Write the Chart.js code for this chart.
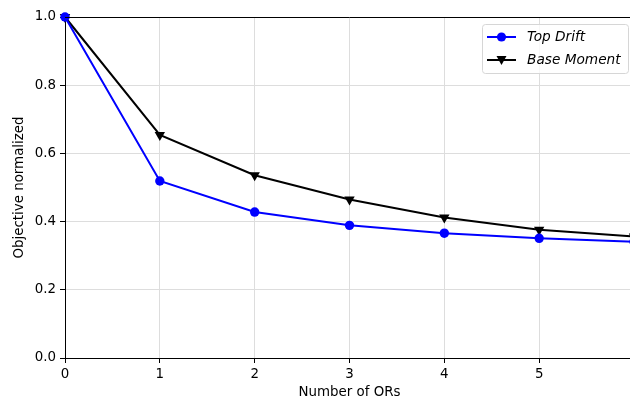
<!DOCTYPE html>
<html><head><meta charset="utf-8">
<script src="https://cdn.jsdelivr.net/npm/chart.js@4"></script>
<style>html,body{margin:0;padding:0;overflow:hidden;background:#fff;width:630px;height:398px}
#wrap{width:640px;height:398px}</style>
</head><body><div id="wrap"><canvas id="c" width="640" height="398"></canvas></div>
<script>
const xValues = [0, 1, 2, 3, 4, 5, 6];
const topDrift = [1.0, 0.519, 0.428, 0.389, 0.366, 0.351, 0.341];
const baseMoment = [1.0, 0.654, 0.536, 0.465, 0.412, 0.376, 0.356];
const xTicks = [0, 1, 2, 3, 4, 5];
const yTicks = [0.0, 0.2, 0.4, 0.6, 0.8, 1.0];
const seriesNames = ['Top Drift', 'Base Moment'];

const FONT = 'DejaVu Sans';
const FS = 13.4;
const pts = (ys) => xValues.map((x, i) => ({x: x, y: ys[i]}));

const legendPlugin = {
  id: 'inLegend',
  afterDraw(chart) {
    const ctx = chart.ctx;
    const x0 = 482.5, y0 = 24.5, w = 146, h = 49, r = 3;
    ctx.save();
    ctx.beginPath();
    ctx.moveTo(x0 + r, y0);
    ctx.arcTo(x0 + w, y0, x0 + w, y0 + h, r);
    ctx.arcTo(x0 + w, y0 + h, x0, y0 + h, r);
    ctx.arcTo(x0, y0 + h, x0, y0, r);
    ctx.arcTo(x0, y0, x0 + w, y0, r);
    ctx.closePath();
    ctx.fillStyle = 'rgba(255,255,255,0.8)';
    ctx.fill();
    ctx.strokeStyle = '#d6d6d6';
    ctx.lineWidth = 1;
    ctx.stroke();
    chart.data.datasets.forEach((ds, i) => {
      const yy = 37 + i * 23;
      ctx.strokeStyle = ds.borderColor;
      ctx.lineWidth = 2;
      ctx.beginPath(); ctx.moveTo(487, yy); ctx.lineTo(516, yy); ctx.stroke();
      ctx.fillStyle = ds.borderColor;
      ctx.beginPath();
      if (i === 0) { ctx.arc(501.5, yy, 4.6, 0, Math.PI * 2); }
      else { ctx.moveTo(496.5, yy - 4); ctx.lineTo(506.5, yy - 4); ctx.lineTo(501.5, yy + 5); ctx.closePath(); }
      ctx.fill();
      ctx.fillStyle = '#000';
      ctx.font = 'italic 13.7px "' + FONT + '"';
      ctx.textBaseline = 'middle';
      ctx.fillText(ds.label, 527, yy);
    });
    ctx.restore();
  }
};

const spinePlugin = {
  id: 'spines',
  afterDraw(chart) {
    const a = chart.chartArea, ctx = chart.ctx;
    ctx.save();
    ctx.strokeStyle = '#000';
    ctx.lineWidth = 1;
    ctx.beginPath();
    ctx.moveTo(a.left, a.top + 0.5); ctx.lineTo(a.right, a.top + 0.5);
    ctx.stroke();
    ctx.restore();
  }
};

new Chart(document.getElementById('c'), {
  type: 'line',
  data: {
    datasets: [
      {label: seriesNames[0], data: pts(topDrift), borderColor: '#0000ff', backgroundColor: '#0000ff',
       borderWidth: 2, pointStyle: 'circle', pointRadius: 4.7, pointBorderWidth: 0, tension: 0, clip: false},
      {label: seriesNames[1], data: pts(baseMoment), borderColor: '#000000', backgroundColor: '#000000',
       borderWidth: 2, pointStyle: 'triangle', rotation: 180, pointRadius: 6, pointBorderWidth: 0, tension: 0, clip: false}
    ]
  },
  options: {
    responsive: false,
    animation: false,
    events: [],
    layout: {padding: {top: 17, right: 6, left: 0, bottom: 0}},
    plugins: {legend: {display: false}, tooltip: {enabled: false}},
    scales: {
      x: {
        type: 'linear', min: 0, max: 6,
        afterFit: (s) => { s.height = 40; },
        afterBuildTicks: (s) => { s.ticks = xTicks.map(v => ({value: v})); },
        border: {display: true, color: '#000', width: 1},
        grid: {color: '#dddddd', lineWidth: 1, tickLength: 5, tickColor: '#000', drawTicks: true},
        ticks: {color: '#000', font: {family: FONT, size: FS}, padding: 3, maxRotation: 0, callback: v => String(v)},
        title: {display: true, text: 'Number of ORs', color: '#000', font: {family: FONT, size: FS, lineHeight: 1.0}, padding: {top: 0, bottom: -1}}
      },
      y: {
        type: 'linear', min: 0, max: 1,
        afterFit: (s) => { s.width = 65; },
        afterBuildTicks: (s) => { s.ticks = yTicks.map(v => ({value: v})); },
        border: {display: true, color: '#000', width: 1},
        grid: {color: '#dddddd', lineWidth: 1, tickLength: 5, tickColor: '#000', drawTicks: true},
        ticks: {color: '#000', font: {family: FONT, size: FS}, padding: 4, callback: v => Number(v).toFixed(1)},
        title: {display: true, text: 'Objective normalized', color: '#000', font: {family: FONT, size: FS, lineHeight: 1.2}, padding: {top: 11, bottom: 0}}
      }
    }
  },
  plugins: [legendPlugin, spinePlugin]
});
</script>
</body></html>
